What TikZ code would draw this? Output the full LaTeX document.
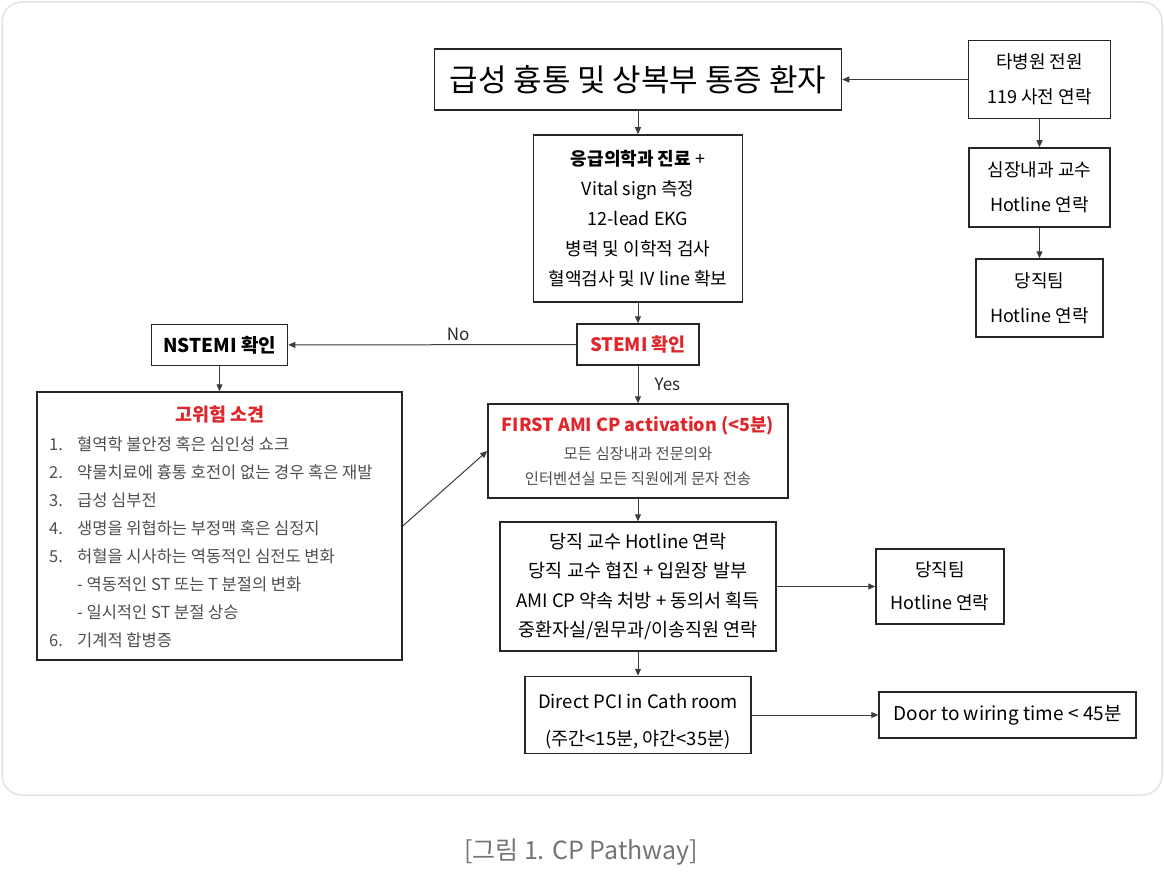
\documentclass[tikz,border=0pt]{standalone}
\usepackage{fontspec}
\setmainfont{Noto Sans CJK KR}
\usetikzlibrary{arrows.meta}

\definecolor{hotred}{HTML}{E0262B}
\definecolor{notegray}{HTML}{4E4E4E}
\definecolor{wiregray}{HTML}{3C3C3C}
\definecolor{framegray}{HTML}{E2E2E2}
\definecolor{capgray}{HTML}{747474}

\tikzset{
  box/.style={draw=black!85, line width=1.5pt, inner sep=0pt, align=center,
    font=\fontsize{18}{35}\selectfont},
  wire/.style={draw=wiregray, line width=1pt, -{Triangle[length=7pt,width=6pt]}},
  lbl/.style={inner sep=0pt, font=\fontsize{17}{18}\selectfont, text=black!85},
}

\begin{document}
\begin{tikzpicture}[x=1pt, y=-1pt]
  \useasboundingbox (0,0) rectangle (1164,872);
  \draw[framegray, line width=1.5pt, rounded corners=20pt] (2,2) rectangle (1162,795);

  % main column
  \node[box, minimum width=407pt, minimum height=61pt, font=\fontsize{31}{33}\selectfont] (title) at (638,79.5) {급성 흉통 및 상복부 통증 환자};
  \node[box, minimum width=209pt, minimum height=167pt, font=\fontsize{18}{30}\selectfont] (emerg) at (638,218.5)
    {\textbf{응급의학과 진료} +\\Vital sign 측정\\12-lead EKG\\병력 및 이학적 검사\\혈액검사 및 IV line 확보};
  \node[box, minimum width=122pt, minimum height=41pt, text=hotred, font=\bfseries\fontsize{18.5}{20}\selectfont] (stemi) at (638,344.5) {STEMI 확인};
  \node[box, minimum width=300pt, minimum height=94pt, text=notegray, font=\fontsize{15.4}{25}\selectfont] (first) at (638,451)
    {{\color{hotred}\bfseries\fontsize{18}{20}\selectfont FIRST AMI CP activation (<5분)}\\[3pt]모든 심장내과 전문의와\\인터벤션실 모든 직원에게 문자 전송};
  \node[box, minimum width=276pt, minimum height=129pt, font=\fontsize{18.5}{29.5}\selectfont] (hotline) at (638,586.5)
    {당직 교수 Hotline 연락\\당직 교수 협진 + 입원장 발부\\AMI CP 약속 처방 + 동의서 획득\\중환자실/원무과/이송직원 연락};
  \node[box, minimum width=226pt, minimum height=77pt, font=\fontsize{18.5}{37}\selectfont] (pci) at (638,715)
    {\rule{0pt}{27pt}Direct PCI in Cath room\\(주간<15분, 야간<35분)};

  % right column
  \node[box, minimum width=142pt, minimum height=78pt] (transfer) at (1039.5,79.5) {타병원 전원\\119 사전 연락};
  \node[box, minimum width=141pt, minimum height=79pt] (cardio) at (1039.5,187.5) {심장내과 교수\\Hotline 연락};
  \node[box, minimum width=127pt, minimum height=78pt] (teamA) at (1039.5,298) {당직팀\\Hotline 연락};
  \node[box, minimum width=128pt, minimum height=75pt, font=\fontsize{18}{33}\selectfont] (teamB) at (940,586.5) {당직팀\\Hotline 연락};
  \node[box, minimum width=257pt, minimum height=46pt, font=\fontsize{19}{20}\selectfont] (door) at (1007.5,715) {Door to wiring time < 45분};

  % left column
  \node[box, minimum width=136pt, minimum height=41pt, font=\bfseries\fontsize{19}{20}\selectfont] (nstemi) at (219.5,345) {NSTEMI 확인};
  \node[box, minimum width=365pt, minimum height=268pt] (risk) at (219.5,526) {};
  \node[inner sep=0pt, text=hotred, font=\bfseries\fontsize{18.5}{20}\selectfont] (riskhead) at (220,414) {고위험 소견};
  \node[inner sep=0pt, anchor=base west, text=notegray, font=\fontsize{16.5}{28}\selectfont] (risklist) at (49,450)
    {\begin{tabular}[t]{@{}p{28pt}@{}l@{}}
      1. & 혈역학 불안정 혹은 심인성 쇼크\\
      2. & 약물치료에 흉통 호전이 없는 경우 혹은 재발\\
      3. & 급성 심부전\\
      4. & 생명을 위협하는 부정맥 혹은 심정지\\
      5. & 허혈을 시사하는 역동적인 심전도 변화\\
         & - 역동적인 ST 또는 T 분절의 변화\\
         & - 일시적인 ST 분절 상승\\
      6. & 기계적 합병증
    \end{tabular}};

  % connectors
  \draw[wire] (title) -- (emerg);
  \draw[wire] (emerg) -- (stemi);
  \draw[wire] (stemi) -- node[lbl, right=16pt] {Yes} (first);
  \draw[wire] (stemi) -- node[lbl, above=3pt, pos=0.41] {No} (nstemi);
  \draw[wire] (first) -- (hotline);
  \draw[wire] (hotline) -- (pci);
  \draw[wire] (transfer) -- (title);
  \draw[wire] (transfer) -- (cardio);
  \draw[wire] (cardio) -- (teamA);
  \draw[wire] (hotline) -- (teamB);
  \draw[wire] (pci) -- (door);
  \draw[wire] (nstemi) -- (risk);
  \draw[wire] (risk.east) -- (first.west);

  \node[inner sep=0pt, text=capgray, font=\fontsize{25}{27}\selectfont] (caption) at (581,852) {[그림 1. CP Pathway]};
\end{tikzpicture}
\end{document}
